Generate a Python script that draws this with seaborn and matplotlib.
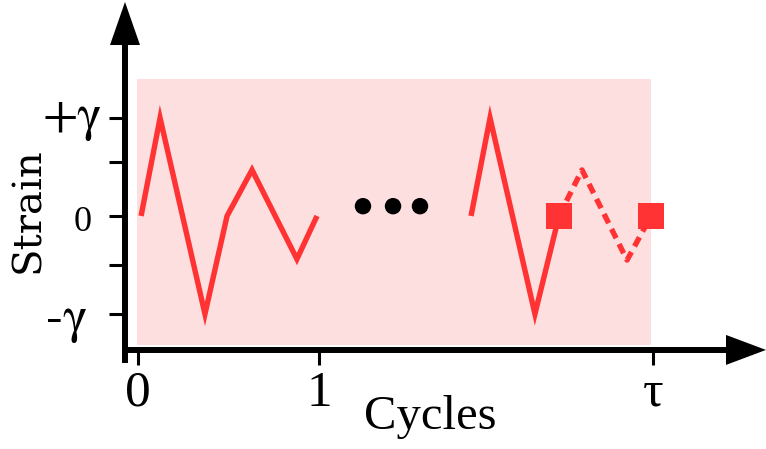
import numpy as np
import pandas as pd
import seaborn as sns
import matplotlib.pyplot as plt
from matplotlib.patches import Rectangle
from matplotlib.transforms import ScaledTranslation

# ---- data ----
first_x = [0.017, 0.122, 0.370, 0.492, 0.630, 0.878, 0.989]
first_y = [0.0, 1.0, -1.0, 0.0, 0.47, -0.44, 0.0]
last_x = [1.840, 1.945, 2.193, 2.326]
last_y = [0.0, 1.0, -1.0, 0.0]
next_x = [2.326, 2.453, 2.702, 2.834]
next_y = [0.0, 0.47, -0.45, 0.0]
square_x = [2.326, 2.834]
square_y = [0.0, 0.0]
dots_x = [1.243, 1.409, 1.558]
dots_y = [0.10, 0.10, 0.10]
region_x = [-0.006, 2.834]
region_y = [-1.316, 1.398]
x_tick_pos = [0, 1, 2.845]
x_tick_labels = ["0", "1", "τ"]
y_tick_pos = [-1, -0.5, 0, 0.55, 1]
y_tick_labels = ["-γ", "", "0", "", "+γ"]

RED = "#ff3333"
PINK = "#fddfdf"

sns.set_theme(style="white")
fig = plt.figure(figsize=(7.66, 4.49), dpi=100)
ax = fig.add_axes([0, 0, 1, 1])
ax.set_xlim(-0.7624, 3.4696)
ax.set_ylim(-2.378, 2.204)

# shaded region
ax.add_patch(Rectangle((region_x[0], region_y[0]), region_x[1] - region_x[0],
                       region_y[1] - region_y[0], facecolor=PINK, edgecolor="none", zorder=0))

df1 = pd.DataFrame({"x": first_x, "y": first_y})
df2 = pd.DataFrame({"x": last_x, "y": last_y})
df3 = pd.DataFrame({"x": next_x, "y": next_y})
LW = 3.9
sns.lineplot(data=df1, x="x", y="y", sort=False, estimator=None, color=RED, lw=LW,
             ax=ax, solid_capstyle="butt", solid_joinstyle="miter")
sns.lineplot(data=df2, x="x", y="y", sort=False, estimator=None, color=RED, lw=LW,
             ax=ax, solid_capstyle="butt", solid_joinstyle="miter")
sns.lineplot(data=df3, x="x", y="y", sort=False, estimator=None, color=RED, lw=LW,
             ax=ax, linestyle=(0, (1.9, 1.2)), dash_capstyle="butt")
sns.scatterplot(x=square_x, y=square_y, marker="s", s=330, color=RED, edgecolor="none",
                linewidth=0, ax=ax, zorder=5)
sns.scatterplot(x=dots_x, y=dots_y, s=140, color="black", edgecolor="none", linewidth=0,
                ax=ax, zorder=5)

# axes spines with arrows
for s in ["top", "right"]:
    ax.spines[s].set_visible(False)
yax_x = -0.0718
xax_y = -1.367
ax.spines["left"].set_position(("data", yax_x))
ax.spines["bottom"].set_position(("data", xax_y))
ax.spines["left"].set_bounds(-1.5, 1.76)
ax.spines["bottom"].set_bounds(-0.088, 3.26)
for s in ["left", "bottom"]:
    ax.spines[s].set_linewidth(4.3)
    ax.spines[s].set_color("black")
    ax.spines[s].set_capstyle("butt")

ax.annotate("", xy=(yax_x, 2.184), xytext=(yax_x, 1.745),
            arrowprops=dict(arrowstyle="-|>,head_length=31,head_width=10.8", mutation_scale=1,
                            lw=0, color="black", shrinkA=0, shrinkB=0))
ax.annotate("", xy=(3.4696, xax_y), xytext=(3.249, xax_y),
            arrowprops=dict(arrowstyle="-|>,head_length=28.8,head_width=10.8", mutation_scale=1,
                            lw=0, color="black", shrinkA=0, shrinkB=0))

ax.set_xticks(x_tick_pos, x_tick_labels)
ax.set_yticks(y_tick_pos, y_tick_labels)
ax.tick_params(axis="x", bottom=True, direction="out", length=10.8, width=2.2,
               colors="black", labelsize=37, pad=4)
ax.tick_params(axis="y", left=True, direction="out", length=11.5, width=2.2,
               colors="black", labelsize=37, pad=5)
for lab in ax.get_xticklabels():
    lab.set_fontfamily(["Liberation Serif", "DejaVu Serif"])
ylabs = ax.get_yticklabels()
for lab in ylabs:
    lab.set_fontfamily(["STIXGeneral", "DejaVu Serif"])
ylabs[2].set_fontfamily(["Liberation Serif"])
ylabs[2].set_fontsize(26)

# individual nudges of the y tick labels (pixels -> inches)
nudges = {0: (-15, 0), 2: (-10, -3), 4: (0, 6)}
for i, (dx, dy) in nudges.items():
    lab = ylabs[i]
    lab.set_transform(lab.get_transform() + ScaledTranslation(dx / 100, dy / 100, fig.dpi_scale_trans))

ax.set_xlabel("Cycles", fontsize=35, family=["Liberation Serif"], color="black")
ax.xaxis.set_label_coords(430 / 766, 1 - 395 / 449)
ax.set_ylabel("Strain", fontsize=29, family=["DejaVu Serif"], color="black")
ax.yaxis.set_label_coords(47 / 766, 1 - 210 / 449)

fig.savefig("out.png", dpi=100)
